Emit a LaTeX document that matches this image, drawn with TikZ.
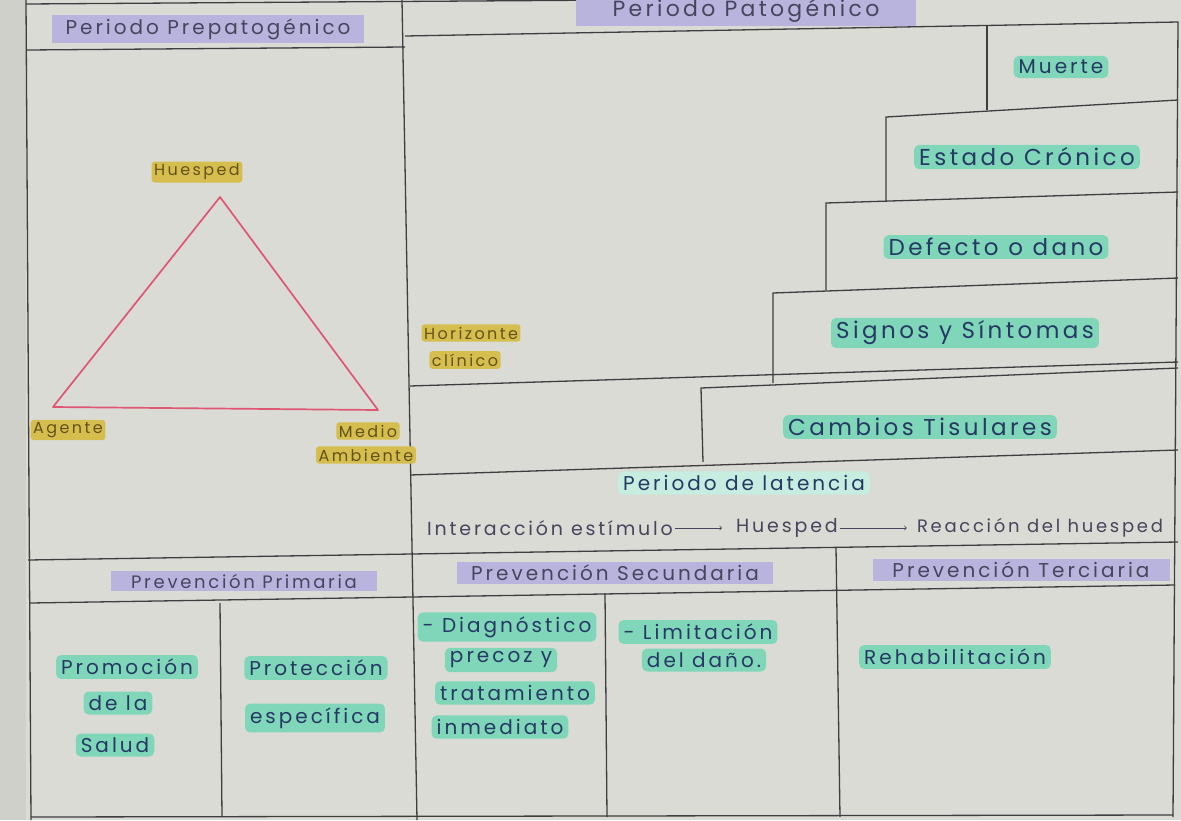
\documentclass[tikz,border=0pt]{standalone}
\usepackage{fontspec}
\setmainfont{Poppins}[LetterSpace=15]
\usepackage{xcolor}

\definecolor{papel}{RGB}{219,219,213}
\definecolor{borde}{RGB}{208,208,202}
\definecolor{lapiz}{RGB}{62,62,64}
\definecolor{tinta}{RGB}{38,56,100}
\definecolor{gris}{RGB}{72,68,92}
\definecolor{lila}{RGB}{184,180,222}
\definecolor{menta}{RGB}{128,214,184}
\definecolor{ocre}{RGB}{214,190,78}
\definecolor{oliva}{RGB}{98,82,28}
\definecolor{rosa}{RGB}{222,86,114}

\tikzset{
	linea/.style={draw=lapiz,line width=1.3pt},
	cabeza/.style={fill=lila,text=gris,inner xsep=6pt,inner ysep=3pt,font=\fontsize{20}{22}\selectfont},
	marca/.style={fill=menta,text=tinta,inner xsep=5pt,inner ysep=4pt,rounded corners=5pt,font=\fontsize{20}{22}\selectfont},
	marcagrande/.style={marca,inner ysep=3pt,font=\fontsize{23}{25}\selectfont},
	dorado/.style={fill=ocre,text=oliva,inner sep=2.5pt,rounded corners=3pt,font=\fontsize{16}{18}\selectfont},
	escrito/.style={text=gris,inner sep=2pt,font=\fontsize{19}{21}\selectfont},
	flecha/.style={->,draw=gris,line width=0.8pt}
}

\begin{document}
\begin{tikzpicture}[x=1pt,y=-1pt]
	\useasboundingbox (0,0) rectangle (1181,820);
	\fill[papel] (0,0) rectangle (1181,820);
	\fill[borde] (0,0) rectangle (26,820);

	\draw[linea] (26,0) -- (31,820);
	\draw[linea] (26,4) -- (620,0);
	\draw[linea] (27,50) -- (405,47);
	\draw[linea] (402,0) -- (417,820);
	\draw[linea] (405,36) -- (1178,22) -- (1173,817);
	\draw[linea] (31,817) -- (1173,815);

	\draw[linea] (987,25) -- (987,110);
	\draw[linea] (886,201) -- (886,117) -- (1178,100);
	\draw[linea] (826,290) -- (826,203) -- (1178,192);
	\draw[linea] (773,383) -- (773,293) -- (1178,278);
	\draw[linea] (410,386) -- (1178,362);
	\draw[linea] (703,462) -- (701,388) -- (1178,368);
	\draw[linea] (410,475) -- (1178,450);

	\draw[linea] (28,560) -- (1178,542);
	\draw[linea] (836,547) -- (840,817);
	\draw[linea] (30,603) -- (1175,585);
	\draw[linea] (220,603) -- (222,817);
	\draw[linea] (605,593) -- (607,817);

	\node[cabeza,minimum width=312pt] (prepato) at (208,29) {Periodo Prepatogénico};
	\node[cabeza,minimum width=340pt,font=\fontsize{22}{24}\selectfont] (pato) at (746,11) {Periodo Patogénico};

	\coordinate (vh) at (220,197);
	\coordinate (va) at (53,407);
	\coordinate (vm) at (378,410);
	\draw[rosa,line width=1.7pt,line join=round] (vh) -- (va) -- (vm) -- cycle;
	\node[dorado] (huesped) at (197,172) {Huesped};
	\node[dorado] (agente) at (68,430) {Agente};
	\node[dorado] (medio) at (368,431) {Medio};
	\node[dorado] (ambiente) at (366,455) {Ambiente};

	\node[marca] (muerte) at (1061,67) {Muerte};
	\node[marcagrande] (cronico) at (1027,157) {Estado Crónico};
	\node[marcagrande] (defecto) at (996,247) {Defecto o dano};
	\node[marcagrande] (signos) at (965,333) {Signos y Síntomas};
	\node[marcagrande] (cambios) at (920,427) {Cambios Tisulares};
	\node[dorado] (horizonte) at (471,333) {Horizonte};
	\node[dorado] (clinico) at (465,360) {clínico};

	\node[marca,fill=menta!45] (latencia) at (744,483) {Periodo de latencia};
	\node[escrito] (estimulo) at (550,528) {Interacción estímulo};
	\node[escrito] (huespedb) at (787,528) {Huesped};
	\node[escrito,font=\fontsize{18}{20}\selectfont] (reaccion) at (1040,528) {Reacción del huesped};
	\draw[flecha,shorten >=12pt] (estimulo) -- (huespedb);
	\draw[flecha,shorten >=8pt] (huespedb) -- (reaccion);

	\node[cabeza,minimum width=266pt,font=\fontsize{18}{20}\selectfont] (primaria) at (244,581) {Prevención Primaria};
	\node[cabeza,minimum width=316pt] (secundaria) at (615,573) {Prevención Secundaria};
	\node[cabeza,minimum width=297pt] (terciaria) at (1021,570) {Prevención Terciaria};

	\node[marca] (promo1) at (127,667) {Promoción};
	\node[marca] (promo2) at (118,703) {de la};
	\node[marca] (promo3) at (115,745) {Salud};
	\node[marca] (protec1) at (316,668) {Protección};
	\node[marca] (protec2) at (315,718) {específica};

	\node[marca] (diag1) at (507,627) {- Diagnóstico};
	\node[marca] (diag2) at (501,660) {precoz y};
	\node[marca] (diag3) at (515,693) {tratamiento};
	\node[marca] (diag4) at (500,727) {inmediato};
	\node[marca] (limit1) at (698,632) {- Limitación};
	\node[marca] (limit2) at (704,660) {del daño.};
	\node[marca] (rehab) at (955,657) {Rehabilitación};
\end{tikzpicture}
\end{document}
